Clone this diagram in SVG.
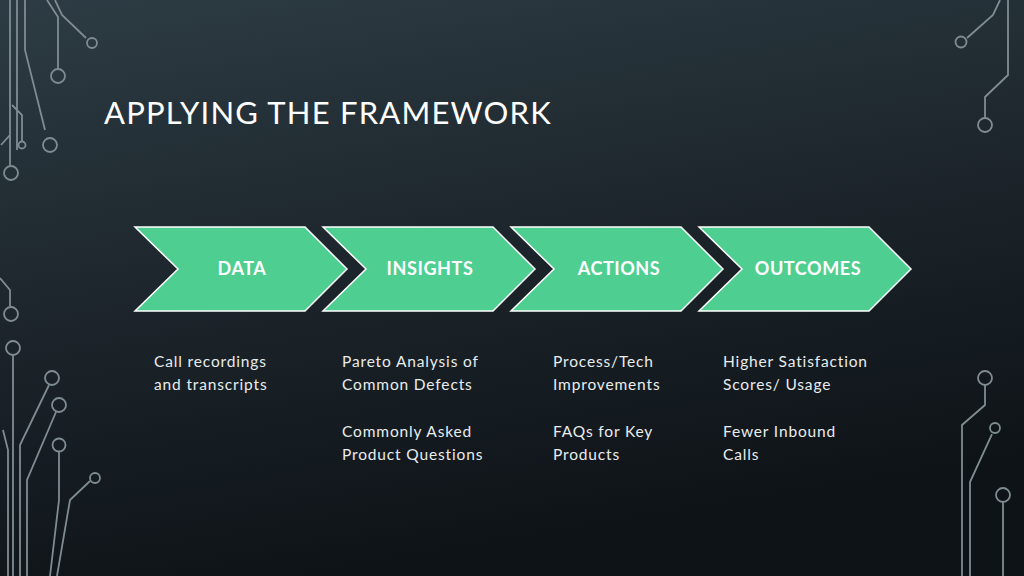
<svg xmlns="http://www.w3.org/2000/svg" width="1024" height="576" viewBox="0 0 1024 576">
<defs>
<linearGradient id="bg" x1="0" y1="0" x2="0.3" y2="1">
<stop offset="0" stop-color="#2d3c44"/><stop offset="0.5" stop-color="#1d262c"/><stop offset="1" stop-color="#0e1317"/>
</linearGradient>
<style>
.c{fill:none;stroke:#7f8c92;stroke-width:1.8}
.ch{fill:#4ecf91;stroke:#ffffff;stroke-width:1.5}
.lab{font-family:"Lato","Open Sans",sans-serif;font-weight:bold;font-size:18px;fill:#ffffff;text-anchor:middle;letter-spacing:0.6px}
.t{font-family:"Lato","Open Sans",sans-serif;font-size:15.5px;fill:#e8ecee;letter-spacing:0.85px}
.title{font-family:"Lato","Open Sans",sans-serif;font-size:31px;fill:#ffffff;letter-spacing:1.2px}
</style>
</defs>
<rect width="1024" height="576" fill="url(#bg)"/>
<g id="decor">
<path class="c" d="M10 0V165M17 0V150M25 0V50L45 130M47 0L58 17V68M55 0L62 15L86 38M22 141V115L12 105M1 145L10 135"/>
<circle class="c" cx="11" cy="173" r="7"/><circle class="c" cx="50" cy="145" r="7"/><circle class="c" cx="58" cy="76" r="7"/><circle class="c" cx="92" cy="43" r="5"/><circle class="c" cx="22" cy="145" r="3.5"/>
<path class="c" d="M0 278L10 290V306M13 355V576M49 385L20 445V576M56 412L27 480V576M59 452V500L50 576M90 481L70 500L57 576M3 430L8 450V576"/>
<circle class="c" cx="11" cy="314" r="7"/><circle class="c" cx="13" cy="348" r="7"/><circle class="c" cx="52" cy="378" r="7"/><circle class="c" cx="59" cy="405" r="7"/><circle class="c" cx="59" cy="445" r="6.5"/><circle class="c" cx="95" cy="478" r="5"/>
<path class="c" d="M1000 0L993 15L967 38M1008 0V75L985 97V118M985 385V405L962 425V576M992 434L970 482V576M1003 502V576"/>
<circle class="c" cx="961" cy="42" r="5.5"/><circle class="c" cx="985" cy="125" r="7"/><circle class="c" cx="985" cy="378" r="7"/><circle class="c" cx="995" cy="428" r="5"/><circle class="c" cx="1003" cy="495" r="7"/>
</g>
<text class="title" x="104" y="124">APPLYING THE FRAMEWORK</text>
<g id="data"><polygon class="ch" points="135,227 305,227 347,269 305,311 135,311 178,269"/><text class="lab" x="242" y="275">DATA</text></g>
<g id="insights"><polygon class="ch" points="323,227 493,227 535,269 493,311 323,311 366,269"/><text class="lab" x="430" y="275">INSIGHTS</text></g>
<g id="actions"><polygon class="ch" points="511,227 681,227 723,269 681,311 511,311 554,269"/><text class="lab" x="619" y="275">ACTIONS</text></g>
<g id="outcomes"><polygon class="ch" points="699,227 869,227 911,269 869,311 699,311 742,269"/><text class="lab" x="808" y="275">OUTCOMES</text></g>
<g id="texts">
<text class="t" x="154" y="367">Call recordings</text><text class="t" x="154" y="390">and transcripts</text>
<text class="t" x="342" y="367">Pareto Analysis of</text><text class="t" x="342" y="390">Common Defects</text>
<text class="t" x="342" y="437">Commonly Asked</text><text class="t" x="342" y="460">Product Questions</text>
<text class="t" x="553" y="367">Process/Tech</text><text class="t" x="553" y="390">Improvements</text>
<text class="t" x="553" y="437">FAQs for Key</text><text class="t" x="553" y="460">Products</text>
<text class="t" x="723" y="367">Higher Satisfaction</text><text class="t" x="723" y="390">Scores/ Usage</text>
<text class="t" x="723" y="437">Fewer Inbound</text><text class="t" x="723" y="460">Calls</text>
</g>
<g id="connectors"/>
</svg>
